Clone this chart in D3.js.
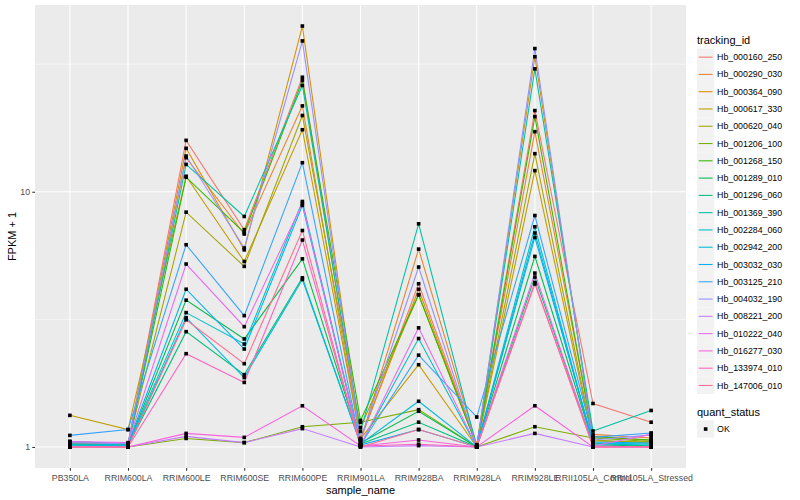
<!DOCTYPE html>
<html>
<head>
<meta charset="utf-8">
<script src="https://cdnjs.cloudflare.com/ajax/libs/d3/7.8.5/d3.min.js"></script>
<style>
  body { margin: 0; background: #fff; }
  text { font-family: "Liberation Sans", Arial, sans-serif; }
</style>
</head>
<body>
<svg id="chart" width="800" height="500"></svg>
<script>
// categories on the x axis
var samples = ["PB350LA", "RRIM600LA", "RRIM600LE", "RRIM600SE", "RRIM600PE", "RRIM901LA",
    "RRIM928BA", "RRIM928LA", "RRIM928LE", "RRII105LA_Control", "RRII105LA_Stressed"];

var trackingIds = ["Hb_000160_250", "Hb_000290_030", "Hb_000364_090", "Hb_000617_330", "Hb_000620_040",
    "Hb_001206_100", "Hb_001268_150", "Hb_001289_010", "Hb_001296_060", "Hb_001369_390",
    "Hb_002284_060", "Hb_002942_200", "Hb_003032_030", "Hb_003125_210", "Hb_004032_190",
    "Hb_008221_200", "Hb_010222_040", "Hb_016277_030", "Hb_133974_010", "Hb_147006_010"];

// ggplot default hue palette, 20 levels
var hueColors = ["#F8766D", "#EA8331", "#D89000", "#C09B00", "#A3A500", "#7CAE00", "#39B600", "#00BB4E",
    "#00BF7D", "#00C1A3", "#00BFC4", "#00BAE0", "#00B0F6", "#35A2FF", "#9590FF", "#C77CFF",
    "#E76BF3", "#FA62DB", "#FF62BC", "#FF6C91"];

// FPKM + 1, one array per tracking_id, in sample order
var hb_000160_250 = [1.05, 1.03, 15.9, 7.10, 28.1, 1.065, 4.36, 1.02, 20.8, 1.48, 1.25];
var hb_000290_030 = [1.04, 1.02, 13.6, 6.83, 21.7, 1.055, 5.96, 1.02, 17.2, 1.12, 1.085];
var hb_000364_090 = [1.03, 1.02, 14.8, 5.92, 44.6, 1.08, 4.15, 1.01, 33.8, 1.10, 1.06];
var hb_000617_330 = [1.33, 1.17, 11.5, 5.33, 17.5, 1.075, 2.10, 1.0, 12.1, 1.055, 1.046];
var hb_000620_040 = [1.04, 1.03, 8.32, 5.10, 19.9, 1.19, 3.95, 1.01, 14.1, 1.065, 1.037];
var hb_001206_100 = [1.0, 1.0, 1.08, 1.04, 1.20, 1.25, 1.40, 1.0, 1.20, 1.085, 1.05];
var hb_001268_150 = [1.03, 1.018, 11.4, 6.91, 27.3, 1.27, 3.95, 1.01, 19.7, 1.098, 1.065];
var hb_001289_010 = [1.02, 1.018, 3.76, 2.65, 5.46, 1.037, 1.38, 1.0, 5.58, 1.037, 1.009];
var hb_001296_060 = [1.02, 1.01, 2.83, 1.92, 4.60, 1.027, 1.25, 1.0, 4.63, 1.018, 1.009];
var hb_001369_390 = [1.018, 1.009, 12.8, 8.0, 26.1, 1.15, 7.49, 1.0, 30.3, 1.155, 1.39];
var hb_002284_060 = [1.027, 1.02, 3.36, 2.53, 9.16, 1.018, 2.66, 1.0, 7.29, 1.027, 1.018];
var hb_002942_200 = [1.018, 1.01, 3.21, 1.87, 4.53, 1.027, 1.51, 1.0, 6.89, 1.037, 1.027];
var hb_003032_030 = [1.05, 1.03, 4.15, 2.42, 8.84, 1.018, 1.17, 1.0, 6.62, 1.046, 1.037];
var hb_003125_210 = [1.11, 1.17, 6.20, 3.27, 13.0, 1.018, 2.29, 1.31, 8.07, 1.09, 1.135];
var hb_004032_190 = [1.04, 1.03, 13.8, 6.02, 39.0, 1.065, 5.07, 1.0, 36.4, 1.065, 1.115];
var hb_008221_200 = [1.0, 1.0, 1.10, 1.04, 1.18, 1.0, 1.012, 1.0, 1.13, 1.0, 1.0];
var hb_010222_040 = [1.05, 1.04, 5.21, 2.96, 9.0, 1.009, 2.93, 1.0, 4.80, 1.009, 1.12];
var hb_016277_030 = [1.0, 1.0, 1.13, 1.09, 1.45, 1.009, 1.065, 1.0, 1.45, 1.0, 1.0];
var hb_133974_010 = [1.0, 1.0, 2.32, 1.79, 6.47, 1.009, 1.025, 1.0, 4.35, 1.009, 1.0];
var hb_147006_010 = [1.0, 1.0, 3.15, 2.12, 7.05, 1.0, 1.17, 1.0, 4.41, 1.0, 1.0];

var seriesValues = [hb_000160_250, hb_000290_030, hb_000364_090, hb_000617_330, hb_000620_040,
    hb_001206_100, hb_001268_150, hb_001289_010, hb_001296_060, hb_001369_390,
    hb_002284_060, hb_002942_200, hb_003032_030, hb_003125_210, hb_004032_190,
    hb_008221_200, hb_010222_040, hb_016277_030, hb_133974_010, hb_147006_010];

var yBreaks = [1, 10];
var quantStatus = ["OK"];

var margin = { top: 5, right: 114, bottom: 32, left: 35 };
var width = 800 - margin.left - margin.right;
var height = 500 - margin.top - margin.bottom;

var svg = d3.select("#chart");

var series = trackingIds.map(function (id, i) {
    return {
        id: id,
        color: hueColors[i],
        values: samples.map(function (s, j) { return { sample: s, value: seriesValues[i][j] }; })
    };
});

var allValues = d3.merge(seriesValues);
var lo = Math.log10(d3.min(allValues)), hi = Math.log10(d3.max(allValues));
var pad = (hi - lo) * 0.05;

var x = d3.scalePoint()
    .domain(samples)
    .range([0, width])
    .padding(0.6);

var y = d3.scaleLog()
    .domain([Math.pow(10, lo - pad), Math.pow(10, hi + pad)])
    .range([height, 0]);

var g = svg.append("g").attr("transform", "translate(" + margin.left + "," + margin.top + ")");

// panel
g.append("rect").attr("width", width).attr("height", height).attr("fill", "#EBEBEB");

// minor grid (halfway between decades)
var minorBreaks = [Math.pow(10, 0.5), Math.pow(10, 1.5)];
g.selectAll(".minor").data(minorBreaks).enter().append("line")
    .attr("x1", 0).attr("x2", width)
    .attr("y1", function (d) { return y(d); }).attr("y2", function (d) { return y(d); })
    .attr("stroke", "#fff").attr("stroke-width", 0.53);

g.selectAll(".hmajor").data(yBreaks).enter().append("line")
    .attr("x1", 0).attr("x2", width)
    .attr("y1", function (d) { return y(d); }).attr("y2", function (d) { return y(d); })
    .attr("stroke", "#fff").attr("stroke-width", 1.07);

g.selectAll(".vmajor").data(samples).enter().append("line")
    .attr("y1", 0).attr("y2", height)
    .attr("x1", function (d) { return x(d); }).attr("x2", function (d) { return x(d); })
    .attr("stroke", "#fff").attr("stroke-width", 1.07);

// lines
var line = d3.line()
    .x(function (d) { return x(d.sample); })
    .y(function (d) { return y(d.value); });

g.selectAll(".series").data(series).enter().append("path")
    .attr("d", function (d) { return line(d.values); })
    .attr("fill", "none")
    .attr("stroke", function (d) { return d.color; })
    .attr("stroke-width", 1.07);

// points (shape 15)
var pts = d3.merge(series.map(function (s) { return s.values; }));
var sq = 3.6;
g.selectAll(".pt").data(pts).enter().append("rect")
    .attr("x", function (d) { return x(d.sample) - sq / 2; })
    .attr("y", function (d) { return y(d.value) - sq / 2; })
    .attr("width", sq).attr("height", sq)
    .attr("fill", "#000");

// axes
var xAxis = d3.axisBottom(x).tickSize(2.74).tickPadding(4.5);
var xg = g.append("g").attr("transform", "translate(0," + height + ")").call(xAxis);
var yAxis = d3.axisLeft(y).tickValues(yBreaks).tickFormat(d3.format("d")).tickSize(2.74).tickPadding(2.2);
var yg = g.append("g").call(yAxis);

[xg, yg].forEach(function (ax) {
    ax.select(".domain").remove();
    ax.selectAll(".tick line").attr("stroke", "#333333").attr("stroke-width", 1.07);
    ax.selectAll(".tick text").attr("fill", "#4D4D4D").style("font-size", "8.8px")
        .style("font-family", "'Liberation Sans', Arial, sans-serif");
});

// axis titles
svg.append("text")
    .attr("x", margin.left + width / 2).attr("y", 494)
    .attr("text-anchor", "middle").style("font-size", "11px")
    .text("sample_name");

svg.append("text")
    .attr("transform", "translate(16," + (margin.top + height / 2) + ") rotate(-90)")
    .attr("text-anchor", "middle").style("font-size", "11px")
    .text("FPKM + 1");

// legend: tracking_id
var keySize = 17.28;
var legX = 697, legY = 48.5;
var leg = svg.append("g");
leg.append("text").attr("x", legX).attr("y", legY - 4.5).style("font-size", "11px").text("tracking_id");

var keys = leg.selectAll(".key").data(series).enter().append("g")
    .attr("transform", function (d, i) { return "translate(" + legX + "," + (legY + i * keySize) + ")"; });
keys.append("rect").attr("width", keySize).attr("height", keySize).attr("fill", "#F2F2F2");
keys.append("line")
    .attr("x1", 1.7).attr("x2", keySize - 1.7)
    .attr("y1", keySize / 2).attr("y2", keySize / 2)
    .attr("stroke", function (d) { return d.color; }).attr("stroke-width", 1.07);
keys.append("text")
    .attr("x", keySize + 2.8).attr("y", keySize / 2).attr("dy", "0.35em")
    .style("font-size", "8.8px").text(function (d) { return d.id; });

// legend: quant_status
var qY = 420.4;
leg.append("text").attr("x", legX).attr("y", qY - 4.5).style("font-size", "11px").text("quant_status");
var qk = leg.selectAll(".qkey").data(quantStatus).enter().append("g")
    .attr("transform", function (d, i) { return "translate(" + legX + "," + (qY + i * keySize) + ")"; });
qk.append("rect").attr("width", keySize).attr("height", keySize).attr("fill", "#F2F2F2");
qk.append("rect").attr("x", keySize / 2 - sq / 2).attr("y", keySize / 2 - sq / 2)
    .attr("width", sq).attr("height", sq).attr("fill", "#000");
qk.append("text")
    .attr("x", keySize + 2.8).attr("y", keySize / 2).attr("dy", "0.35em")
    .style("font-size", "8.8px").text(function (d) { return d; });
</script>
</body>
</html>
